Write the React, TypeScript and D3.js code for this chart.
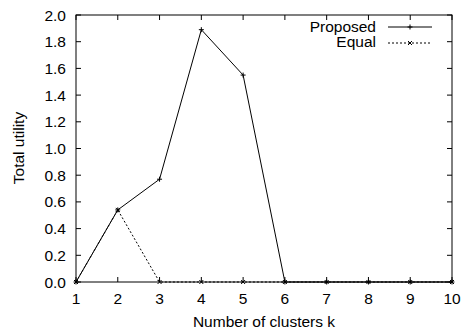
import React, { useEffect, useRef } from 'react'
import * as d3 from 'd3'

const clusters = [1, 2, 3, 4, 5, 6, 7, 8, 9, 10]
const proposed = [0, 0.54, 0.77, 1.89, 1.55, 0, 0, 0, 0, 0]
const equal = [0, 0.54, 0, 0, 0, 0, 0, 0, 0, 0]
const yTicks = [0, 0.2, 0.4, 0.6, 0.8, 1.0, 1.2, 1.4, 1.6, 1.8, 2.0]

function Chart() {
  const ref = useRef<SVGSVGElement>(null)

  useEffect(() => {
    const svg = d3.select(ref.current)
    svg.selectAll('*').remove()
    const W = 462, H = 331
    const M = { top: 15, right: 10, bottom: 49, left: 76 }
    const x = d3.scaleLinear().domain([1, 10]).range([M.left, W - M.right])
    const y = d3.scaleLinear().domain([0, 2]).range([H - M.bottom, M.top])
    const font = 'Liberation Sans, Arial, sans-serif'
    const tl = 5

    const g = svg.append('g').attr('font-family', font).attr('font-size', 15.5)

    // ticks (inward, mirrored like gnuplot)
    yTicks.forEach(t => {
      g.append('line').attr('x1', x(1)).attr('x2', x(1) + tl)
        .attr('y1', y(t)).attr('y2', y(t)).attr('stroke', '#000')
      g.append('line').attr('x1', x(10)).attr('x2', x(10) - tl)
        .attr('y1', y(t)).attr('y2', y(t)).attr('stroke', '#000')
      g.append('text').attr('x', x(1) - 10).attr('y', y(t) + 5.5)
        .attr('text-anchor', 'end').text(t.toFixed(1))
    })
    clusters.forEach(c => {
      g.append('line').attr('x1', x(c)).attr('x2', x(c))
        .attr('y1', y(0)).attr('y2', y(0) - tl).attr('stroke', '#000')
      g.append('line').attr('x1', x(c)).attr('x2', x(c))
        .attr('y1', y(2)).attr('y2', y(2) + tl).attr('stroke', '#000')
      g.append('text').attr('x', x(c)).attr('y', y(0) + 22)
        .attr('text-anchor', 'middle').text(c)
    })

    g.append('rect').attr('x', x(1)).attr('y', y(2))
      .attr('width', x(10) - x(1)).attr('height', y(0) - y(2))
      .attr('fill', 'none').attr('stroke', '#000')

    g.append('text').attr('x', (x(1) + x(10)) / 2).attr('y', 327)
      .attr('text-anchor', 'middle').text('Number of clusters k')
    g.append('text').attr('transform', `translate(24,148) rotate(-90)`)
      .attr('text-anchor', 'middle').text('Total utility')

    const line = d3.line<number>().x((d, i) => x(clusters[i])).y(d => y(d))

    const plus = (sel: any, cx: number, cy: number) => {
      sel.append('path').attr('d', `M${cx - 2.5},${cy}H${cx + 2.5}M${cx},${cy - 2.5}V${cy + 2.5}`)
        .attr('stroke', '#000').attr('stroke-width', 1)
    }
    const cross = (sel: any, cx: number, cy: number) => {
      sel.append('path').attr('d', `M${cx - 2},${cy - 2}L${cx + 2},${cy + 2}M${cx - 2},${cy + 2}L${cx + 2},${cy - 2}`)
        .attr('stroke', '#000').attr('stroke-width', 1)
    }

    g.append('path').datum(equal).attr('d', line).attr('fill', 'none')
      .attr('stroke', '#000').attr('stroke-width', 1).attr('stroke-dasharray', '2,2')
    equal.forEach((v, i) => cross(g, x(clusters[i]), y(v)))

    g.append('path').datum(proposed).attr('d', line).attr('fill', 'none')
      .attr('stroke', '#000').attr('stroke-width', 1)
    proposed.forEach((v, i) => plus(g, x(clusters[i]), y(v)))

    // legend
    const lx1 = 388, lx2 = 432
    g.append('text').attr('x', 376).attr('y', 31.5).attr('text-anchor', 'end').text('Proposed')
    g.append('line').attr('x1', lx1).attr('x2', lx2).attr('y1', 27).attr('y2', 27).attr('stroke', '#000')
    plus(g, (lx1 + lx2) / 2, 27)
    g.append('text').attr('x', 376).attr('y', 47).attr('text-anchor', 'end').text('Equal')
    g.append('line').attr('x1', lx1).attr('x2', lx2).attr('y1', 43).attr('y2', 43)
      .attr('stroke', '#000').attr('stroke-dasharray', '2,2')
    cross(g, (lx1 + lx2) / 2, 43)
  }, [])

  return <svg ref={ref} width={462} height={331}
    style={{ position: 'absolute', left: 0, top: 0, display: 'block' }} />
}

export default function App() {
  return <Chart />
}
